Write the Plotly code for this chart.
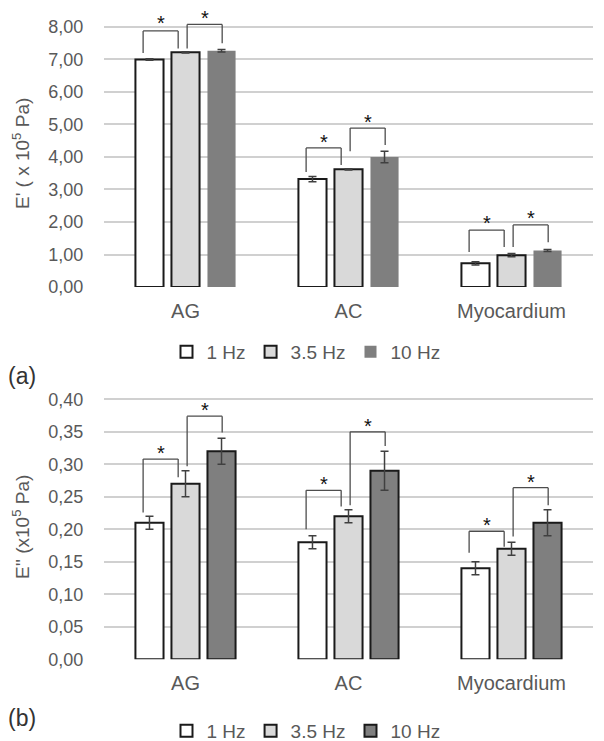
import plotly.graph_objects as go
from plotly.subplots import make_subplots

# categories and series
cats = ["AG", "AC", "Myocardium"]
freqs = ["1 Hz", "3.5 Hz", "10 Hz"]

# (a) storage modulus E' (x10^5 Pa)
e1_1hz = [7.00, 3.32, 0.73]
e1_35hz = [7.22, 3.62, 0.98]
e1_10hz = [7.27, 4.00, 1.12]
e1_1hz_err = [0.02, 0.08, 0.05]
e1_35hz_err = [0.02, 0.02, 0.05]
e1_10hz_err = [0.04, 0.18, 0.03]

# (b) loss modulus E'' (x10^5 Pa)
e2_1hz = [0.21, 0.18, 0.14]
e2_35hz = [0.27, 0.22, 0.17]
e2_10hz = [0.32, 0.29, 0.21]
e2_1hz_err = [0.01, 0.01, 0.01]
e2_35hz_err = [0.02, 0.01, 0.01]
e2_10hz_err = [0.02, 0.03, 0.02]

# significance brackets: 1 Hz vs 3.5 Hz (br1), 3.5 Hz vs 10 Hz (br2)
a_br1_top = [7.88, 4.28, 1.75]
a_br1_left = [7.20, 3.54, 1.08]
a_br1_right = [7.34, 3.75, 1.23]
a_br1_star = [8.27, 4.62, 2.12]
a_br2_top = [8.08, 4.89, 1.91]
a_br2_left = [7.34, 4.18, 1.23]
a_br2_right = [7.50, 4.37, 1.38]
a_br2_star = [8.42, 5.23, 2.28]

b_br1_top = [0.308, 0.260, 0.197]
b_br1_left = [0.226, 0.200, 0.164]
b_br1_right = [0.280, 0.235, 0.173]
b_br1_star = [0.325, 0.277, 0.214]
b_br2_top = [0.374, 0.350, 0.264]
b_br2_left = [0.297, 0.237, 0.189]
b_br2_right = [0.349, 0.328, 0.237]
b_br2_star = [0.391, 0.367, 0.281]

FONT = "Arial, Liberation Sans, sans-serif"
GREY_TXT = "#595959"
EDGE = "#1a1a1a"
ERR = "#404040"
fills = ["#ffffff", "#d9d9d9", "#7f7f7f"]

fig = make_subplots(rows=2, cols=1)


def add_bars(row, vals, errs, legend, edge_last):
    for i, (name, v, e) in enumerate(zip(freqs, vals, errs)):
        lw = 2 if (i < 2 or edge_last) else 0
        fig.add_trace(go.Bar(
            x=cats, y=v, name=name, legend=legend,
            marker=dict(color=fills[i], line=dict(color=EDGE, width=lw)),
            error_y=dict(type="data", array=e, color=ERR, thickness=1.5, width=4),
            hoverinfo="skip",
        ), row=row, col=1)


add_bars(1, [e1_1hz, e1_35hz, e1_10hz], [e1_1hz_err, e1_35hz_err, e1_10hz_err], "legend", False)
add_bars(2, [e2_1hz, e2_35hz, e2_10hz], [e2_1hz_err, e2_35hz_err, e2_10hz_err], "legend2", True)

# brackets + stars
br_offsets = [(-0.26, -0.045), (0.01, 0.225)]


def add_brackets(xr, yr, sets):
    for (xl_off, xr_off), (tops, lefts, rights, stars) in zip(br_offsets, sets):
        for k in range(len(cats)):
            xl, xrr = k + xl_off, k + xr_off
            line = dict(color="#4d4d4d", width=1.3)
            fig.add_shape(type="line", xref=xr, yref=yr, x0=xl, x1=xl, y0=lefts[k], y1=tops[k], line=line)
            fig.add_shape(type="line", xref=xr, yref=yr, x0=xl, x1=xrr, y0=tops[k], y1=tops[k], line=line)
            fig.add_shape(type="line", xref=xr, yref=yr, x0=xrr, x1=xrr, y0=rights[k], y1=tops[k], line=line)
            fig.add_annotation(xref=xr, yref=yr, x=(xl + xrr) / 2, y=stars[k], text="*",
                               showarrow=False, yshift=-5,
                               font=dict(family=FONT, size=20, color="#111111"))


add_brackets("x", "y", [(a_br1_top, a_br1_left, a_br1_right, a_br1_star),
                        (a_br2_top, a_br2_left, a_br2_right, a_br2_star)])
add_brackets("x2", "y2", [(b_br1_top, b_br1_left, b_br1_right, b_br1_star),
                          (b_br2_top, b_br2_left, b_br2_right, b_br2_star)])

# the page body adds an 8px margin, so the figure is 8px smaller and
# screen positions are shifted by 8px
OFF = 8
W, H = 604 - OFF, 741 - OFF
L, R = 104 - OFF, 11


def py(p):
    return 1 - (p - OFF) / H


def px(p):
    return (p - OFF - L) / (W - L - R)


axis_x = dict(type="category", range=[-0.5, 2.5], showgrid=False, showline=False, zeroline=False,
              ticks="outside", ticklen=6, tickcolor="rgba(0,0,0,0)",
              tickfont=dict(family=FONT, size=20, color=GREY_TXT), automargin=False)
axis_y = dict(showgrid=True, gridcolor="#d0d0d0", gridwidth=1.5, zeroline=False, showline=False,
              ticks="outside", ticklen=16, tickcolor="rgba(0,0,0,0)", tickformat=".2f",
              tickfont=dict(family=FONT, size=18, color=GREY_TXT), automargin=False)

leg = dict(orientation="h", x=px(306), xanchor="center", yanchor="middle",
           font=dict(family=FONT, size=19, color=GREY_TXT), itemwidth=30,
           bgcolor="rgba(0,0,0,0)")

fig.update_layout(
    width=W, height=H,
    margin=dict(l=L, r=R, t=0, b=0, autoexpand=False),
    paper_bgcolor="white", plot_bgcolor="white",
    separators=",.",
    barmode="group", bargap=0.337, bargroupgap=0.22,
    font=dict(family=FONT, color=GREY_TXT),
    xaxis=dict(axis_x, domain=[0, 1]),
    xaxis2=dict(axis_x, domain=[0, 1]),
    yaxis=dict(axis_y, domain=[py(287), py(9.1)], range=[0, 8.55], dtick=1),
    yaxis2=dict(axis_y, domain=[py(659.3), py(386.3)], range=[0, 0.42], dtick=0.05),
    legend=dict(leg, y=py(352)),
    legend2=dict(leg, y=py(731)),
)

# axis titles and panel labels
fig.add_annotation(xref="paper", yref="paper", x=px(21), y=py(154), text="E' ( x 10<sup>5</sup> Pa)",
                   xanchor="center", yanchor="middle",
                   textangle=-90, showarrow=False, font=dict(family=FONT, size=19, color=GREY_TXT))
fig.add_annotation(xref="paper", yref="paper", x=px(21), y=py(527), text="E'' (x10<sup>5</sup> Pa)",
                   xanchor="center", yanchor="middle",
                   textangle=-90, showarrow=False, font=dict(family=FONT, size=19, color=GREY_TXT))
fig.add_annotation(xref="paper", yref="paper", x=px(21.5), y=py(376), text="(a)",
                   xanchor="center", yanchor="middle",
                   showarrow=False, font=dict(family=FONT, size=23, color="#333333"))
fig.add_annotation(xref="paper", yref="paper", x=px(21.5), y=py(717.5), text="(b)",
                   xanchor="center", yanchor="middle",
                   showarrow=False, font=dict(family=FONT, size=23, color="#333333"))

fig.write_html("out.html")
